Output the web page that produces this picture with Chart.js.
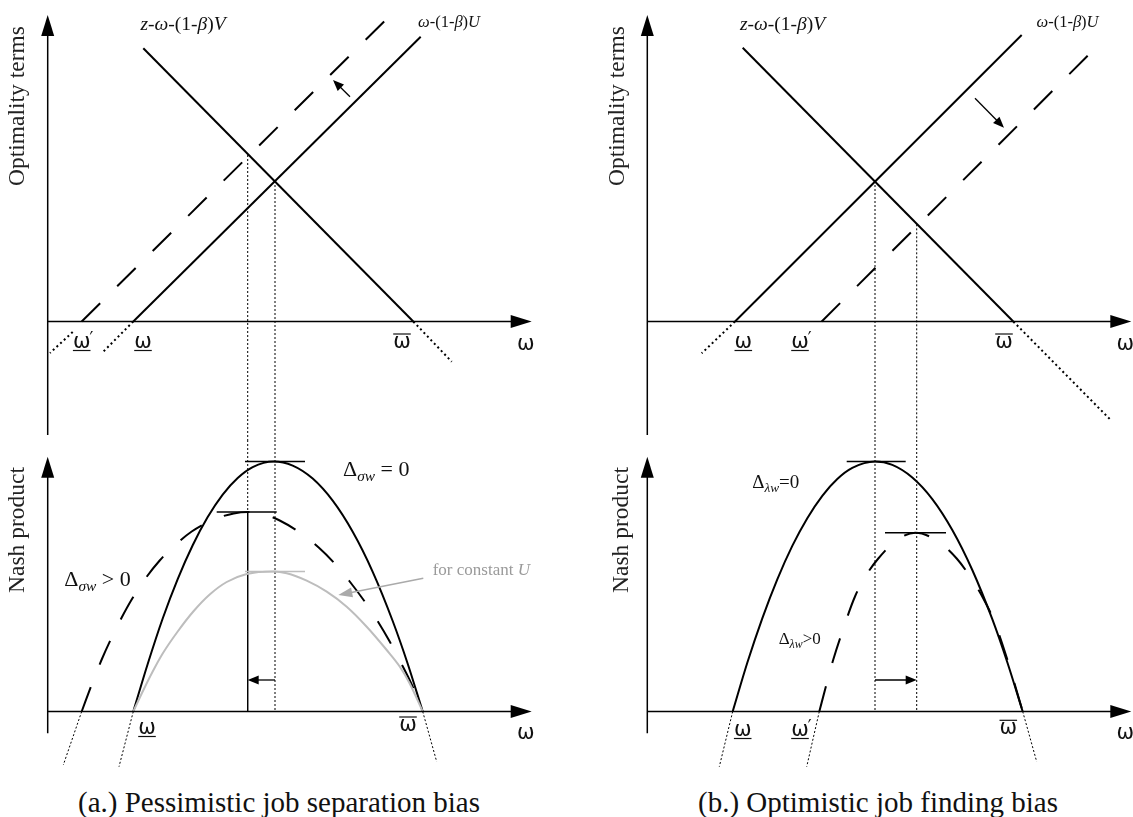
<!DOCTYPE html>
<html>
<head>
<meta charset="utf-8">
<script src="https://cdn.jsdelivr.net/npm/chart.js@4.4.0/dist/chart.umd.min.js"></script>
<style>
  body { margin: 0; background: #fff; width: 1133px; height: 817px; overflow: hidden; position: relative; }
  canvas { position: absolute; }
  .cap { position: absolute; top: 788px; font: 29px/29px "Liberation Serif", serif; color: #111; white-space: nowrap; transform: translateX(-50%); }
</style>
</head>
<body>
<canvas id="aTop" width="566" height="440" style="left:0;top:0"></canvas>
<canvas id="aBot" width="566" height="330" style="left:0;top:440px"></canvas>
<canvas id="bTop" width="567" height="440" style="left:566px;top:0"></canvas>
<canvas id="bBot" width="567" height="330" style="left:566px;top:440px"></canvas>
<div class="cap" style="left:279px">(a.) Pessimistic job separation bias</div>
<div class="cap" style="left:878px">(b.) Optimistic job finding bias</div>
<script>
// x = wage ω (from the vertical axis), y = optimality term / Nash product

// (a.) pessimistic job separation bias - optimality terms
const aUline = [[85.6, 0], [373.0, 284.8]];          // ω-(1-β)U
const aUlineExt = [[85.6, 0], [54.0, -31.8]];
const aUbiased = [[34.0, 0], [344.0, 307.5]];        // shifted up (dashed)
const aUbiasedExt = [[25.0, -10.5], [2.3, -31.5]];
const aVline = [[95.6, 273.2], [365.6, 0]];          // z-ω-(1-β)V
const aVlineExt = [[365.6, 0], [404.0, -40.2]];
const aCross = [[200.0, 166.5], [227.3, 140.5]];     // biased, unbiased wage

// (a.) Nash product
const aNash = [[85.6, 0], [100, 47.5], [115, 93], [130, 132.4], [145, 166.2], [160, 194.4],
  [175, 216.9], [190, 233.5], [205, 244.4], [226, 250], [245, 245.9], [265, 232.9],
  [285, 210.8], [305, 179.7], [325, 139.7], [345, 90.5], [360, 47.8], [375, 0]];
const aNashBiased = [[34, 0], [44, 27], [54, 52], [64, 74], [74, 94], [84, 112], [97, 132],
  [112, 151], [127, 166], [144, 180], [166, 192], [186, 198], [200, 199.5], [214, 198],
  [232, 191], [252, 179], [271, 164], [287, 148], [302, 130], [317, 110], [329, 92],
  [342, 70], [352, 51], [364, 27], [375, 0]];
const aNashConstU = [[85.6, 0], [95, 20], [105, 40], [115, 58], [130, 80], [145.6, 100],
  [162, 117], [179, 129.5], [199, 137.5], [226, 140], [239, 138.2], [259, 130.8],
  [279, 119.8], [299, 104.8], [319, 84.8], [339, 61.5], [352, 45], [362, 28], [375, 0]];
const aNashExt = [[85.6, 0], [71.3, -55.2]];
const aNashExtR = [[375.0, 0], [389.0, -50.2]];
const aBiasedExt = [[34.0, 0], [15.6, -53.5]];
const aPeak = [[197.3, 250], [257.3, 250]];
const aPeakBiased = [[169.0, 199.5], [229.0, 199.5]];
const aPeakConstU = [[197.3, 140], [257.3, 140]];

// (b.) optimistic job finding bias - optimality terms
const bUline = [[87.7, 0], [374.4, 286.5]];
const bUlineExt = [[87.7, 0], [54.4, -31.8]];
const bUbiased = [[174.4, 0], [454.4, 279.8]];       // shifted down (dashed)
const bVline = [[95.4, 273.8], [366.0, 0]];
const bVlineExt = [[366.0, 0], [462.7, -97.8]];
const bCross = [[227.7, 140.5], [269.4, 97.2]];

// (b.) Nash product
const bNash = [[85.4, 0], [100, 48.7], [115, 93.2], [130, 132.2], [145, 165.6], [160, 193.3],
  [175, 215.7], [190, 232.5], [205, 243.6], [227.7, 250], [245, 246.6], [265, 234],
  [285, 212.4], [305, 181.5], [325, 141.5], [345, 92.3], [360, 49.3], [375.4, 0]];
const bNashBiased = [[172, 0], [179.4, 28], [186, 52], [194.4, 78], [207.7, 115], [220, 138],
  [231, 153], [249.4, 171.5], [268, 178.8], [291, 170], [309.4, 153], [322.7, 135],
  [336, 113], [347, 90], [359.4, 54], [375.4, 0]];
const bNashExt = [[85.4, 0], [72.0, -55.2]];
const bNashExtR = [[375.4, 0], [389.4, -50.2]];
const bBiasedExt = [[172.0, 0], [159.4, -55.2]];
const bPeak = [[199.4, 250], [258.4, 250]];
const bPeakBiased = [[237.7, 178.8], [298.7, 178.8]];

const TOP_RANGE = [-118.5, 321.5];
const BOT_RANGE = [-58.5, 271.5];

const SERIF = '"Liberation Serif", serif';

const pts = arr => arr.map(p => ({ x: p[0], y: p[1] }));
const seg = (arr, extra) => Object.assign({
  data: pts(arr), showLine: true, pointRadius: 0, borderColor: '#000',
  borderWidth: 2, fill: false, tension: 0
}, extra);
const curve = (arr, extra) => seg(arr, Object.assign({ cubicInterpolationMode: 'monotone' }, extra));
const DASH = { borderDash: [26, 24] };
const DOTS = { borderWidth: 2, borderDash: [2, 3] };
const FINE = { borderWidth: 1, borderDash: [2, 2] };
const drop = (x, from, to, style) => seg([[x, from], [x, to]], style);

function head(ctx, x, y, ang, len, hw, color) {
  ctx.fillStyle = color;
  ctx.beginPath();
  ctx.moveTo(x, y);
  ctx.lineTo(x - len * Math.cos(ang) - hw * Math.sin(ang), y - len * Math.sin(ang) + hw * Math.cos(ang));
  ctx.lineTo(x - len * Math.cos(ang) + hw * Math.sin(ang), y - len * Math.sin(ang) - hw * Math.cos(ang));
  ctx.closePath();
  ctx.fill();
}

function arrow(ctx, x1, y1, x2, y2, len, hw, color, lw) {
  const ang = Math.atan2(y2 - y1, x2 - x1);
  ctx.strokeStyle = color;
  ctx.lineWidth = lw;
  ctx.setLineDash([]);
  ctx.beginPath();
  ctx.moveTo(x1, y1);
  ctx.lineTo(x2 - (len - 2) * Math.cos(ang), y2 - (len - 2) * Math.sin(ang));
  ctx.stroke();
  head(ctx, x2, y2, ang, len, hw, color);
}

// runs: [text, 'r' | 'i' | 's'] ; s = italic subscript
function rich(ctx, x, y, runs, size, align, color) {
  const fonts = runs.map(r => (r[1] === 'r' ? '' : 'italic ') + (r[1] === 's' ? size * 0.7 : size) + 'px ' + SERIF);
  let w = 0;
  const ws = runs.map((r, i) => { ctx.font = fonts[i]; const m = ctx.measureText(r[0]).width; w += m; return m; });
  let cx = align === 'left' ? x : x - w / 2;
  ctx.fillStyle = color || '#111';
  ctx.textAlign = 'left';
  ctx.textBaseline = 'middle';
  runs.forEach((r, i) => {
    ctx.font = fonts[i];
    ctx.fillText(r[0], cx, y + (r[1] === 's' ? size * 0.3 : 0));
    cx += ws[i];
  });
}

function omega(ctx, x, y, kind) {
  ctx.font = '21px "DejaVu Sans"';
  ctx.fillStyle = '#111';
  ctx.textAlign = 'center';
  ctx.textBaseline = 'alphabetic';
  ctx.fillText('ω', x, y + 6);
  const w = ctx.measureText('ω').width;
  ctx.strokeStyle = '#111';
  ctx.lineWidth = 1.2;
  ctx.setLineDash([]);
  if (kind === 'low' || kind === 'lowPrime') {
    ctx.beginPath(); ctx.moveTo(x - w / 2, y + 8.5); ctx.lineTo(x + w / 2, y + 8.5); ctx.stroke();
  }
  if (kind === 'high') {
    ctx.beginPath(); ctx.moveTo(x - w / 2, y - 8); ctx.lineTo(x + w / 2, y - 8); ctx.stroke();
  }
  if (kind === 'lowPrime') {
    ctx.font = '17px "DejaVu Sans"';
    ctx.textAlign = 'left';
    ctx.fillText('′', x + w / 2 - 1, y + 2);
  }
}

function vtitle(ctx, x, y, text) {
  ctx.save();
  ctx.translate(x, y);
  ctx.rotate(-Math.PI / 2);
  ctx.font = '23.5px ' + SERIF;
  ctx.fillStyle = '#222';
  ctx.textAlign = 'center';
  ctx.textBaseline = 'middle';
  ctx.fillText(text, 0, 0);
  ctx.restore();
}

const V_LABEL = [['z', 'i'], ['-', 'r'], ['ω', 'i'], ['-(1-', 'r'], ['β', 'i'], [')', 'r'], ['V', 'i']];
const U_LABEL = [['ω', 'i'], ['-(1-', 'r'], ['β', 'i'], [')', 'r'], ['U', 'i']];

function sketch(spec) {
  return {
    id: 'sketch',
    afterDatasetsDraw(chart) {
      const ctx = chart.ctx;
      const X = v => chart.scales.x.getPixelForValue(v);
      const Y = v => chart.scales.y.getPixelForValue(v);
      ctx.save();
      ctx.setLineDash([]);
      // axes with arrow heads
      ctx.strokeStyle = '#000';
      ctx.lineWidth = 1.5;
      ctx.beginPath();
      ctx.moveTo(X(0), Y(spec.yAxis[0]));
      ctx.lineTo(X(0), Y(spec.yAxis[1]) + 18);
      ctx.moveTo(X(0), Y(0));
      ctx.lineTo(X(spec.xTip) - 18, Y(0));
      ctx.stroke();
      head(ctx, X(0), Y(spec.yAxis[1]), -Math.PI / 2, 21, 6.5, '#000');
      head(ctx, X(spec.xTip), Y(0), 0, 21, 6.5, '#000');

      vtitle(ctx, X(spec.title[0]), Y(spec.title[1]), spec.title[2]);
      spec.marks.forEach(m => omega(ctx, X(m[0]), Y(m[1]), m[2]));
      (spec.rich || []).forEach(t => rich(ctx, X(t.at[0]), Y(t.at[1]), t.runs, t.size, t.align || 'center', t.color));
      (spec.arrows || []).forEach(a => arrow(ctx, X(a.from[0]), Y(a.from[1]), X(a.to[0]), Y(a.to[1]),
        a.len || 11, a.hw || 4.5, a.color || '#000', a.lw || 1.3));
      ctx.restore();
    }
  };
}

function make(id, xRange, yRange, datasets, spec) {
  return new Chart(document.getElementById(id), {
    type: 'scatter',
    data: { datasets },
    options: {
      responsive: false,
      animation: false,
      events: [],
      layout: { padding: 0 },
      plugins: { legend: { display: false }, tooltip: { enabled: false } },
      scales: {
        x: { type: 'linear', display: false, min: xRange[0], max: xRange[1] },
        y: { type: 'linear', display: false, min: yRange[0], max: yRange[1] }
      }
    },
    plugins: [sketch(spec)]
  });
}

const aX = [-47.7, 518.3];
const bX = [-81.3, 485.7];

// ---- panel (a) top
make('aTop', aX, TOP_RANGE, [
  seg(aUline), seg(aUlineExt, DOTS),
  seg(aUbiased, DASH), seg(aUbiasedExt, DOTS),
  seg(aVline), seg(aVlineExt, DOTS),
  drop(aCross[0][0], aCross[0][1], TOP_RANGE[0], FINE),
  drop(aCross[1][0], aCross[1][1], TOP_RANGE[0], FINE)
], {
  yAxis: [-113.5, 306.5], xTip: 484,
  title: [-29.7, 215.5, 'Optimality terms'],
  marks: [[34.0, -20.5, 'lowPrime'], [95.3, -20.5, 'low'], [354.3, -20.5, 'high'], [478, -22, 'plain']],
  rich: [
    { at: [135.3, 296.5], runs: V_LABEL, size: 19.5 },
    { at: [401.3, 298.5], runs: U_LABEL, size: 16.5 }
  ],
  arrows: [{ from: [302.3, 224.8], to: [285.3, 241.5] }]
});

// ---- panel (a) bottom
make('aBot', aX, BOT_RANGE, [
  curve(aNashConstU, { borderColor: '#bdbdbd', borderWidth: 2 }),
  seg(aPeakConstU, { borderColor: '#bdbdbd', borderWidth: 1.5 }),
  curve(aNashBiased, DASH),
  curve(aNash),
  seg(aPeak, { borderWidth: 1.5 }), seg(aPeakBiased, { borderWidth: 1.5 }),
  seg(aNashExt, FINE), seg(aNashExtR, FINE), seg(aBiasedExt, FINE),
  drop(aCross[0][0], BOT_RANGE[1], aPeakBiased[0][1], FINE),
  drop(aCross[0][0], aPeakBiased[0][1], 0, { borderWidth: 1 }),
  drop(aCross[1][0], BOT_RANGE[1], 0, FINE)
], {
  yAxis: [-21.8, 254.8], xTip: 484,
  title: [-29.4, 181.5, 'Nash product'],
  marks: [[99.3, -16.5, 'low'], [360.3, -13.5, 'high'], [478, -21.5, 'plain']],
  rich: [
    { at: [328.6, 241.5], runs: [['Δ', 'r'], ['σw', 's'], [' = 0', 'r']], size: 22 },
    { at: [49.8, 131.5], runs: [['Δ', 'r'], ['σw', 's'], [' > 0', 'r']], size: 22 },
    { at: [385, 140.8], runs: [['for constant ', 'r'], ['U', 'i']], size: 17, align: 'left', color: '#9a9a9a' }
  ],
  arrows: [
    { from: [aCross[1][0], 31.5], to: [aCross[0][0], 31.5] },
    { from: [375.6, 133.2], to: [290.6, 116.5], color: '#aaaaaa', lw: 1.5, len: 14, hw: 5 }
  ]
});

// ---- panel (b) top
make('bTop', bX, TOP_RANGE, [
  seg(bUline), seg(bUlineExt, DOTS),
  seg(bUbiased, DASH),
  seg(bVline), seg(bVlineExt, DOTS),
  drop(bCross[0][0], bCross[0][1], TOP_RANGE[0], FINE),
  drop(bCross[1][0], bCross[1][1], TOP_RANGE[0], FINE)
], {
  yAxis: [-113.5, 306.5], xTip: 484,
  title: [-29, 215.5, 'Optimality terms'],
  marks: [[96.0, -20.5, 'low'], [152.7, -20.5, 'lowPrime'], [356.7, -20.5, 'high'], [478, -22, 'plain']],
  rich: [
    { at: [135.2, 296.5], runs: V_LABEL, size: 19.5 },
    { at: [420.2, 298.5], runs: U_LABEL, size: 16.5 }
  ],
  arrows: [{ from: [327.7, 223.2], to: [356.7, 193.8] }]
});

// ---- panel (b) bottom
make('bBot', bX, BOT_RANGE, [
  curve(bNashBiased, DASH),
  curve(bNash),
  seg(bPeak, { borderWidth: 1.5 }), seg(bPeakBiased, { borderWidth: 1.5 }),
  seg(bNashExt, FINE), seg(bNashExtR, FINE), seg(bBiasedExt, FINE),
  drop(bCross[0][0], BOT_RANGE[1], 0, FINE),
  drop(bCross[1][0], BOT_RANGE[1], 0, FINE)
], {
  yAxis: [-21.8, 254.8], xTip: 484,
  title: [-25.6, 181.5, 'Nash product'],
  marks: [[95.4, -18.5, 'low'], [152.7, -18.5, 'lowPrime'], [361.0, -16.8, 'high'], [478, -21.5, 'plain']],
  rich: [
    { at: [128.5, 228.2], runs: [['Δ', 'r'], ['λw', 's'], ['=0', 'r']], size: 19 },
    { at: [152.4, 72.2], runs: [['Δ', 'r'], ['λw', 's'], ['>0', 'r']], size: 17 }
  ],
  arrows: [{ from: [bCross[0][0], 31.5], to: [bCross[1][0], 31.5] }]
});
</script>
</body>
</html>
